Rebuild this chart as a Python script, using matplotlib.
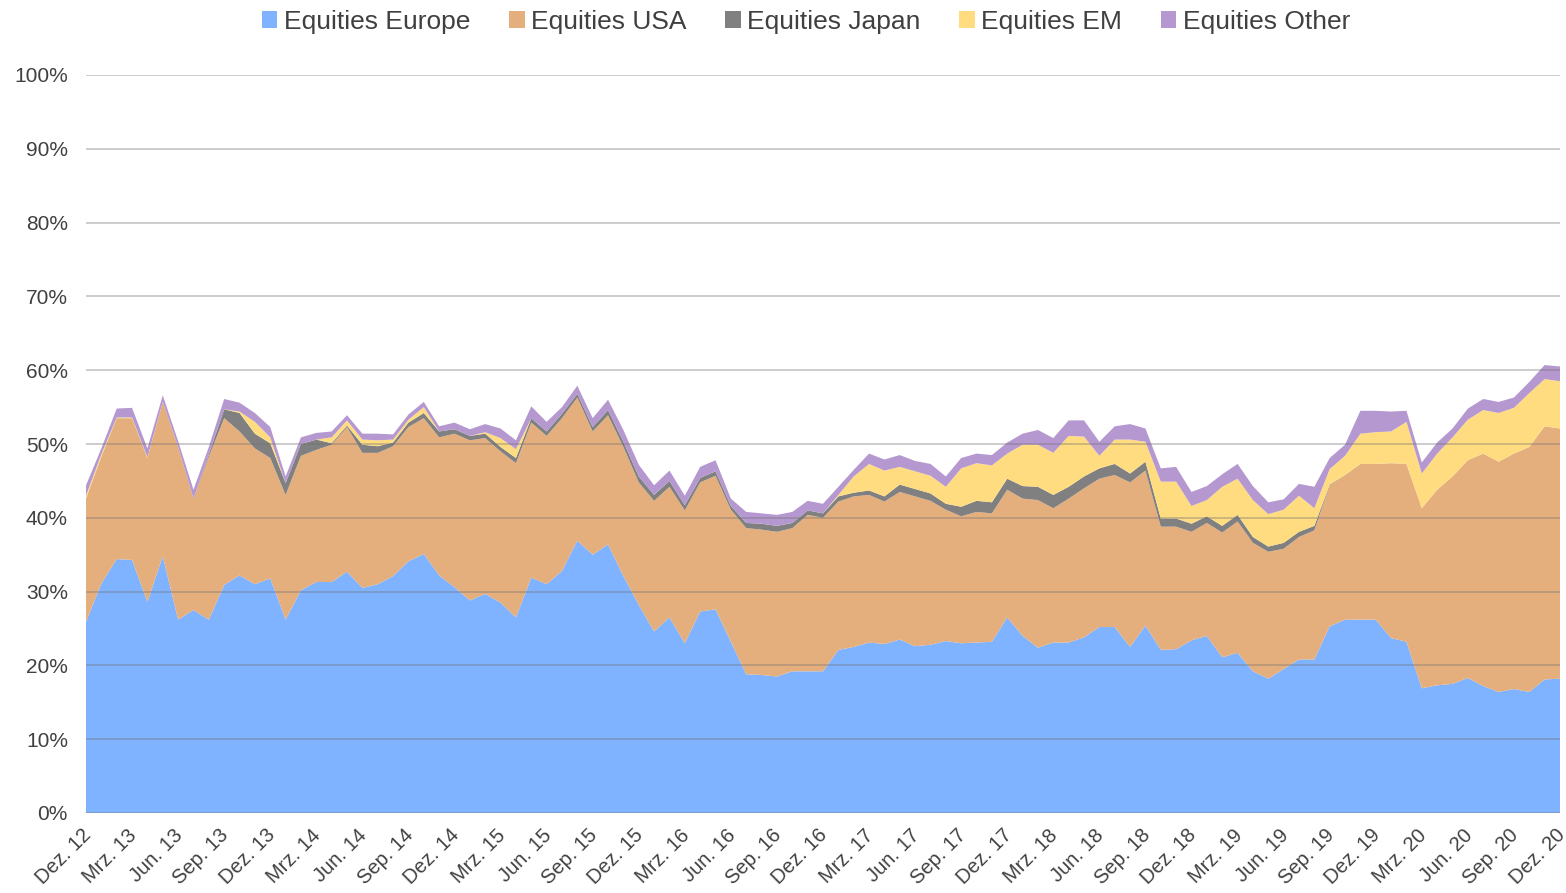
import matplotlib
matplotlib.use("Agg")
import matplotlib.pyplot as plt
import matplotlib.transforms as mtransforms
from matplotlib.patches import Patch
import numpy as np

# monthly shares in %, Dez. 12 .. Dez. 20
europe = [25.9, 31.1, 34.4, 34.3, 28.6, 34.8, 26.2, 27.5, 26.2, 30.9,
          32.2, 31.0, 31.8, 26.2, 30.2, 31.3, 31.3, 32.7, 30.5, 31.0,
          32.1, 34.1, 35.1, 32.2, 30.6, 28.8, 29.7, 28.5, 26.5, 31.9,
          31.0, 32.8, 36.9, 35.0, 36.4, 32.1, 28.2, 24.6, 26.5, 23.0,
          27.3, 27.6, 23.2, 18.8, 18.7, 18.5, 19.2, 19.2, 19.2, 22.1,
          22.5, 23.1, 22.9, 23.5, 22.6, 22.8, 23.3, 23.0, 23.1, 23.2,
          26.5, 24.0, 22.4, 23.1, 23.1, 23.8, 25.2, 25.2, 22.5, 25.4,
          22.1, 22.2, 23.4, 24.0, 21.1, 21.7, 19.2, 18.2, 19.5, 20.8,
          20.8, 25.3, 26.2, 26.2, 26.2, 23.7, 23.2, 16.9, 17.3, 17.5,
          18.3, 17.2, 16.4, 16.8, 16.4, 18.1, 18.2]
usa = [16.7, 17.2, 19.1, 19.2, 19.5, 20.9, 23.4, 15.1, 22.1, 22.6,
       19.5, 18.4, 16.3, 16.9, 18.2, 17.9, 18.6, 19.6, 18.3, 17.8,
       17.6, 18.2, 18.4, 18.7, 20.8, 21.7, 21.1, 20.5, 20.9, 21.0,
       20.1, 20.7, 19.4, 16.7, 17.5, 17.5, 16.6, 17.7, 17.7, 18.0,
       17.5, 18.1, 17.9, 19.8, 19.7, 19.6, 19.4, 21.2, 20.8, 20.1,
       20.4, 20.0, 19.3, 20.0, 20.3, 19.5, 17.8, 17.2, 17.7, 17.4,
       17.3, 18.6, 20.0, 18.2, 19.5, 20.2, 20.1, 20.6, 22.3, 21.0,
       16.7, 16.6, 14.7, 15.3, 16.9, 17.8, 17.4, 17.2, 16.3, 16.6,
       17.5, 19.1, 19.6, 21.1, 21.1, 23.7, 24.1, 24.4, 26.5, 28.1,
       29.5, 31.5, 31.2, 31.9, 33.2, 34.3, 33.9]
japan = [0.0, 0.0, 0.0, 0.0, 0.0, 0.0, 0.0, 0.0, 0.3, 1.2,
         2.5, 2.0, 2.0, 1.6, 1.6, 1.4, 0.2, 0.2, 1.1, 0.9,
         0.5, 0.6, 0.7, 0.8, 0.6, 0.6, 0.6, 0.6, 0.7, 0.6,
         0.6, 0.6, 0.5, 0.6, 0.7, 0.7, 0.8, 0.8, 0.8, 0.7,
         0.6, 0.6, 0.5, 0.7, 0.8, 0.8, 0.7, 0.6, 0.6, 0.7,
         0.5, 0.6, 0.7, 1.0, 1.0, 1.0, 0.8, 1.3, 1.5, 1.5,
         1.5, 1.7, 1.8, 1.8, 1.6, 1.6, 1.4, 1.5, 1.2, 1.2,
         1.1, 1.1, 1.1, 0.9, 0.9, 0.9, 0.8, 0.7, 0.8, 0.7,
         0.6, 0.1, 0.0, 0.0, 0.0, 0.0, 0.0, 0.0, 0.0, 0.0,
         0.0, 0.0, 0.0, 0.0, 0.0, 0.0, 0.0]
em = [0.4, 0.3, 0.1, 0.1, 0.1, 0.0, 0.0, 0.0, 0.0, 0.0,
      0.2, 1.6, 0.8, 0.0, 0.0, 0.0, 0.8, 0.7, 0.7, 0.8,
      0.4, 0.4, 0.8, 0.0, 0.0, 0.0, 0.2, 1.2, 1.2, 0.0,
      0.0, 0.0, 0.0, 0.0, 0.0, 0.0, 0.0, 0.0, 0.0, 0.0,
      0.0, 0.0, 0.0, 0.0, 0.0, 0.0, 0.0, 0.0, 0.0, 0.2,
      2.2, 3.6, 3.5, 2.4, 2.4, 2.4, 2.3, 5.2, 5.1, 5.0,
      3.4, 5.6, 5.7, 5.7, 6.9, 5.4, 1.7, 3.3, 4.6, 2.7,
      5.0, 5.0, 2.4, 2.2, 5.3, 4.9, 5.0, 4.4, 4.5, 4.9,
      2.4, 2.1, 2.6, 4.1, 4.3, 4.3, 5.7, 4.7, 4.9, 5.3,
      5.5, 5.9, 6.6, 6.2, 7.3, 6.4, 6.4]
other = [1.4, 0.8, 1.2, 1.3, 1.2, 0.9, 0.8, 1.2, 1.0, 1.4,
         1.2, 1.2, 1.4, 0.9, 0.9, 0.9, 0.8, 0.7, 0.8, 0.9,
         0.7, 0.7, 0.7, 0.7, 0.9, 0.9, 1.1, 1.3, 1.2, 1.6,
         1.3, 0.9, 1.1, 1.2, 1.4, 1.6, 1.6, 1.3, 1.4, 1.3,
         1.5, 1.5, 1.0, 1.5, 1.4, 1.5, 1.5, 1.3, 1.3, 1.1,
         0.9, 1.4, 1.5, 1.6, 1.4, 1.6, 1.4, 1.4, 1.3, 1.4,
         1.5, 1.5, 2.0, 2.0, 2.1, 2.2, 1.9, 1.8, 2.1, 1.8,
         1.8, 2.0, 1.9, 1.9, 1.7, 2.0, 1.9, 1.6, 1.4, 1.6,
         2.9, 1.5, 1.5, 3.1, 2.9, 2.7, 1.5, 1.5, 1.5, 1.2,
         1.5, 1.5, 1.5, 1.4, 1.5, 1.9, 2.0]

series_names = ["Equities Europe", "Equities USA", "Equities Japan",
                "Equities EM", "Equities Other"]
colors = ["#80B3FF", "#E4AF7D", "#808080", "#FFDC80", "#B698D0"]

# quarterly tick labels, Dez. 12 .. Dez. 20
tick_labels = ["Dez. 12"]
for year in range(13, 21):
    for mon in ["Mrz.", "Jun.", "Sep.", "Dez."]:
        tick_labels.append(f"{mon} {year}")

plt.rcParams['font.family'] = ['Liberation Sans', 'DejaVu Sans']

fig = plt.figure(figsize=(15.66, 8.93), dpi=100)
ax = fig.add_axes([86 / 1566, 1 - 813 / 893, (1560 - 86) / 1566, (813 - 75) / 893])

x = np.arange(len(europe))
ax.stackplot(x, europe, usa, japan, em, other, colors=colors, linewidth=0)

ax.set_xlim(0, len(europe) - 1)
ax.set_ylim(0, 100)
ax.set_yticks(np.arange(0, 101, 10))
ax.set_yticklabels([f"{v}%" for v in range(0, 101, 10)], fontsize=15, color="#404040")
ax.set_xticks(np.arange(0, len(europe), 3))
ax.set_xticklabels(tick_labels, rotation=45, ha="right", rotation_mode="anchor",
                   fontsize=14.5, color="#404040")
ax.tick_params(axis="y", length=0, pad=13)
ax.tick_params(axis="x", length=0, pad=9)
shift = mtransforms.ScaledTranslation(-5 / 100, 0, fig.dpi_scale_trans)
for lab in ax.get_xticklabels():
    lab.set_transform(lab.get_transform() + shift)

ax.set_axisbelow(False)
ax.grid(axis="y", color="#707070", alpha=0.45, linewidth=1.1)
for s in ax.spines.values():
    s.set_visible(False)

handles = [Patch(facecolor=c, edgecolor="none") for c in colors]
fig.legend(handles, series_names, loc="center", bbox_to_anchor=(806 / 1566, 1 - 22 / 893),
           ncol=5, frameon=False, fontsize=19, handlelength=0.6, handleheight=0.6,
           handletextpad=0.25, columnspacing=1.45, labelcolor="#404040")

fig.savefig("out.png", dpi=100)
plt.close()
